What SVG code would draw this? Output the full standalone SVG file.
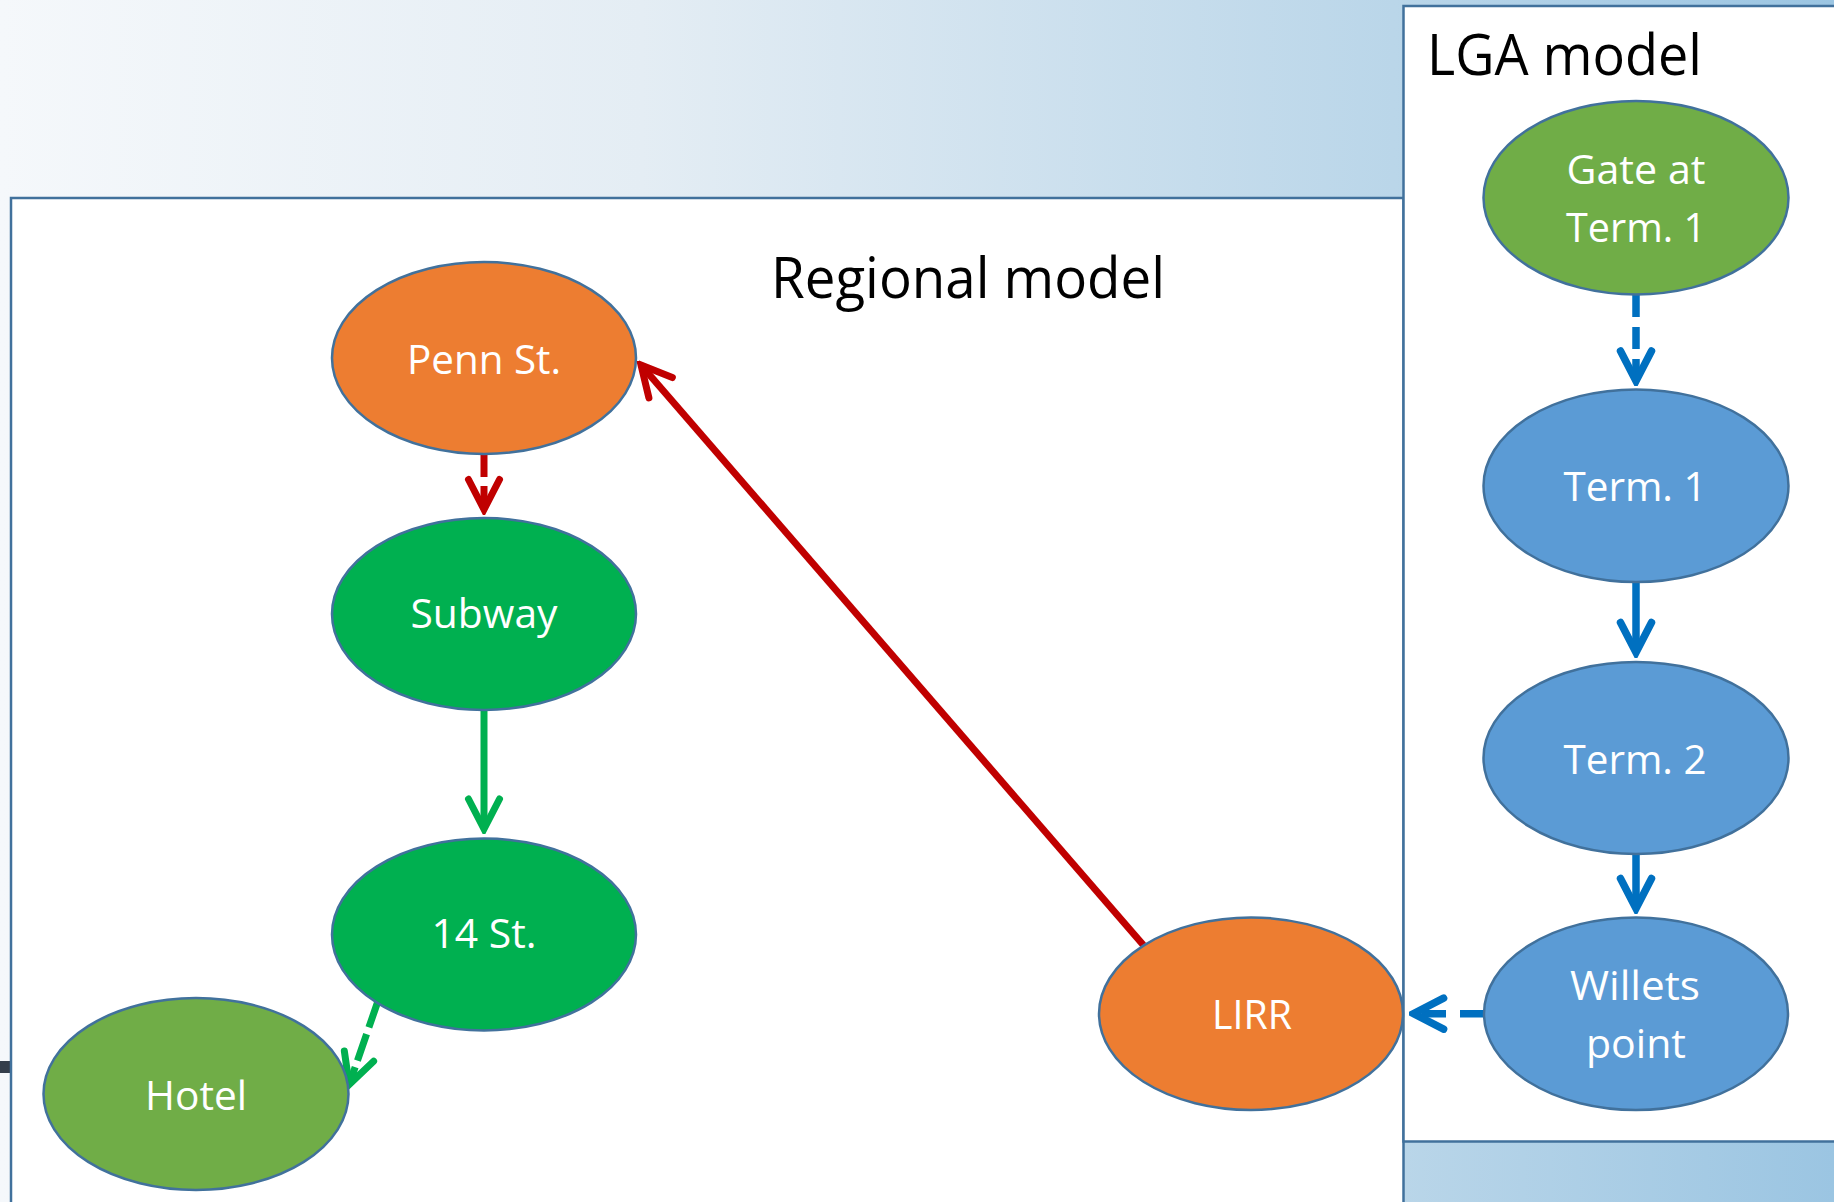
<svg xmlns="http://www.w3.org/2000/svg" width="1834" height="1202" viewBox="0 0 1834 1202">
  <defs>
    <linearGradient id="bg" x1="0" y1="0" x2="1834" y2="0" gradientUnits="userSpaceOnUse">
      <stop offset="0" stop-color="#f5f8fb"/>
      <stop offset="0.35" stop-color="#e4edf4"/>
      <stop offset="0.76" stop-color="#bad6e9"/>
      <stop offset="1" stop-color="#9bc5e2"/>
    </linearGradient>
    <marker id="ah-red" markerUnits="userSpaceOnUse" viewBox="-45 -25 50 50" markerWidth="50" markerHeight="50" refX="0" refY="0" orient="auto">
      <path d="M -30 -15.5 L 0 0 L -30 15.5" fill="none" stroke="#c00000" stroke-width="7" stroke-linecap="round" stroke-linejoin="miter"/>
    </marker>
    <marker id="ah-green" markerUnits="userSpaceOnUse" viewBox="-45 -25 50 50" markerWidth="50" markerHeight="50" refX="0" refY="0" orient="auto">
      <path d="M -30 -15.5 L 0 0 L -30 15.5" fill="none" stroke="#00b050" stroke-width="7" stroke-linecap="round" stroke-linejoin="miter"/>
    </marker>
    <marker id="ah-blue" markerUnits="userSpaceOnUse" viewBox="-45 -25 50 50" markerWidth="50" markerHeight="50" refX="0" refY="0" orient="auto">
      <path d="M -30 -15.5 L 0 0 L -30 15.5" fill="none" stroke="#0070c0" stroke-width="7.5" stroke-linecap="round" stroke-linejoin="miter"/>
    </marker>
  </defs>
  <style>
    .box { fill: #ffffff; stroke: #41719c; stroke-width: 2.5; }
    .node { stroke: #41719c; stroke-width: 2.5; }
    .orange { fill: #ed7d31; }
    .green { fill: #00b050; }
    .lgreen { fill: #70ad47; }
    .blue { fill: #5b9bd5; }
    .lbl { font-family: "Open Sans", "Noto Sans", sans-serif; font-size: 41px; fill: #ffffff; text-anchor: middle; }
    .title { font-family: "Open Sans", "Noto Sans", sans-serif; font-size: 57px; fill: #000000; }
    .edge { fill: none; stroke-width: 7; stroke-linecap: butt; }
    .red { stroke: #c00000; }
    .gr { stroke: #00b050; }
    .bl { stroke: #0070c0; stroke-width: 7.5; }
    .dash { stroke-dasharray: 23 9; }
  </style>

  <rect x="0" y="0" width="1834" height="1202" fill="url(#bg)"/>
  <rect x="0" y="1061" width="11" height="12" fill="#343e4b"/>

  <g id="regional-box">
    <rect class="box" x="11" y="198" width="1392.5" height="1020"/>
    <text class="title" x="771" y="298" textLength="394" lengthAdjust="spacingAndGlyphs">Regional model</text>
  </g>
  <g id="lga-box">
    <rect class="box" x="1403.5" y="6" width="440" height="1135.5"/>
    <text class="title" x="1427" y="75" textLength="275" lengthAdjust="spacingAndGlyphs">LGA model</text>
  </g>

  <g id="connectors">
    <line class="edge red dash" x1="484" y1="454" x2="484" y2="509.5" marker-end="url(#ah-red)"/>
    <line class="edge red" x1="1143.3" y1="945" x2="641" y2="365" marker-end="url(#ah-red)"/>
    <line class="edge gr" x1="484" y1="710" x2="484" y2="829" marker-end="url(#ah-green)"/>
    <line class="edge gr" style="stroke-dasharray: 28 7;" x1="378" y1="1001" x2="349.2" y2="1084.5" marker-end="url(#ah-green)"/>
    <line class="edge bl" style="stroke-dasharray: 22 10;" x1="1636" y1="295" x2="1636" y2="381" marker-end="url(#ah-blue)"/>
    <line class="edge bl" x1="1636" y1="582" x2="1636" y2="652.5" marker-end="url(#ah-blue)"/>
    <line class="edge bl" x1="1636" y1="854" x2="1636" y2="908.5" marker-end="url(#ah-blue)"/>
    <line class="edge bl" style="stroke-dasharray: 24 14;" x1="1484" y1="1013.7" x2="1413.6" y2="1013.7" marker-end="url(#ah-blue)"/>
  </g>

  <g id="penn-st">
    <ellipse class="node orange" cx="484" cy="358" rx="152" ry="96"/>
    <text class="lbl" x="484" y="374" textLength="154" lengthAdjust="spacingAndGlyphs">Penn St.</text>
  </g>
  <g id="subway">
    <ellipse class="node green" cx="484" cy="614" rx="152" ry="96"/>
    <text class="lbl" x="484" y="628" textLength="147" lengthAdjust="spacingAndGlyphs">Subway</text>
  </g>
  <g id="st14">
    <ellipse class="node green" cx="484" cy="934.5" rx="152" ry="96"/>
    <text class="lbl" x="484" y="948" textLength="105" lengthAdjust="spacingAndGlyphs">14 St.</text>
  </g>
  <g id="hotel">
    <ellipse class="node lgreen" cx="196" cy="1094" rx="152.5" ry="96"/>
    <text class="lbl" x="196" y="1110" textLength="102" lengthAdjust="spacingAndGlyphs">Hotel</text>
  </g>
  <g id="lirr">
    <ellipse class="node orange" cx="1251" cy="1013.7" rx="152" ry="96.3"/>
    <text class="lbl" x="1252" y="1029" textLength="80" lengthAdjust="spacingAndGlyphs">LIRR</text>
  </g>
  <g id="gate-term1">
    <ellipse class="node lgreen" cx="1636" cy="197.7" rx="152.5" ry="96.7"/>
    <text class="lbl" x="1636" y="184" textLength="139" lengthAdjust="spacingAndGlyphs">Gate at</text>
    <text class="lbl" x="1636" y="242" textLength="140" lengthAdjust="spacingAndGlyphs">Term. 1</text>
  </g>
  <g id="term1">
    <ellipse class="node blue" cx="1636" cy="485.7" rx="152.5" ry="96.3"/>
    <text class="lbl" x="1635" y="501" textLength="143" lengthAdjust="spacingAndGlyphs">Term. 1</text>
  </g>
  <g id="term2">
    <ellipse class="node blue" cx="1636" cy="758" rx="152.5" ry="96"/>
    <text class="lbl" x="1635" y="774" textLength="143" lengthAdjust="spacingAndGlyphs">Term. 2</text>
  </g>
  <g id="willets">
    <ellipse class="node blue" cx="1636" cy="1013.7" rx="152" ry="96.3"/>
    <text class="lbl" x="1635" y="1000" textLength="130" lengthAdjust="spacingAndGlyphs">Willets</text>
    <text class="lbl" x="1636" y="1058" textLength="100" lengthAdjust="spacingAndGlyphs">point</text>
  </g>
</svg>
